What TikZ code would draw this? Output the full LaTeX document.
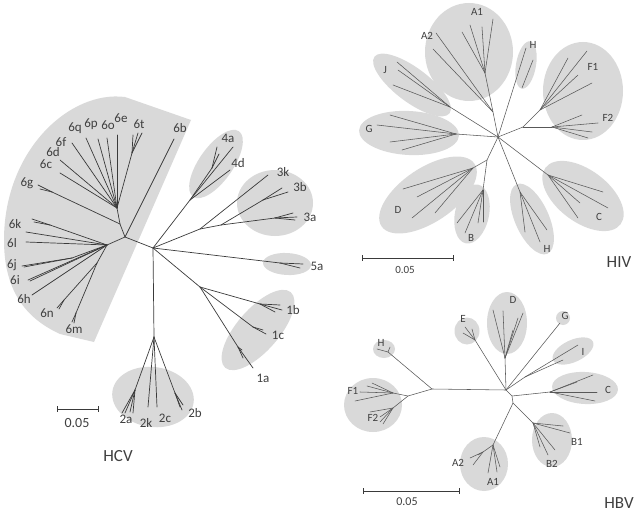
\documentclass[tikz,border=0pt]{standalone}
\usepackage{fontspec}
\setmainfont{Carlito}
\definecolor{blobc}{HTML}{D9D9D9}
\definecolor{linec}{HTML}{3A3A3A}
\definecolor{textc}{HTML}{3F3F3F}
\newcommand\blobe[5]{\fill[blobc, shift={(#1,#2)}, rotate=#3] (0,0) ellipse [x radius=#4, y radius=#5];}
\begin{document}
\begin{tikzpicture}[x=1pt,y=-1pt,
  br/.style={draw=linec, line width=0.7pt, line cap=round},
  bt/.style={draw=linec!85, line width=0.55pt, line cap=round},
  labc/.style={text=textc, inner sep=0pt, font=\fontsize{13}{13}\selectfont},
  labv/.style={text=textc, inner sep=0pt, font=\fontsize{11}{11}\selectfont},
  ttl/.style={text=textc, inner sep=0pt, font=\fontsize{17}{17}\selectfont},
  sbar/.style={draw=linec, line width=0.8pt},
]
\useasboundingbox (0,0) rectangle (637,516);

% ================= HCV =================
\fill[blobc] (191,120) -- (125,97) .. controls (70,90) and (4,150) .. (4,240)
  .. controls (4,290) and (25,318) .. (60,334) -- (94,342) -- cycle;
\blobe{216}{164}{55}{40}{17}
\blobe{275}{203}{0}{38}{33}
\blobe{287}{264}{-3}{24}{11}
\blobe{258}{330}{49}{50}{21}
\blobe{153}{397}{-8}{41}{30}

\coordinate (hc) at (153,248);
\coordinate (n6) at (125,237);
\coordinate (n6u) at (120,224);
\coordinate (n6g) at (52,192);
\coordinate (n6f) at (117,208);
\coordinate (n6t) at (132,153);
\coordinate (n6l) at (107,245);
\coordinate (n6k) at (50,225);
\coordinate (n6j) at (72,258);
\coordinate (n6m) at (97,263);
\coordinate (n6n) at (64,300);
\coordinate (n6mm) at (76,313);
\draw[br] (hc) -- (n6);
\draw[br] (n6) -- (174,139);
\draw[br] (n6) -- (n6u) -- (n6f);
\draw[br] (n6u) -- (n6g);
\foreach \p in {(38,185),(40,189)} \draw[br] (n6g) -- \p;
\foreach \p in {(60,173),(60,160),(72,143),(86,138),(98,139),(107,138),(117,135)} \draw[br] (n6f) -- \p;
\draw[br] (n6f) -- (n6t);
\foreach \p in {(133,135),(138,133),(142,133)} \draw[br] (n6t) -- \p;
\draw[br] (n6) -- (n6l);
\draw[br] (n6l) -- (26,242);
\draw[br] (n6l) -- (26,232);
\draw[br] (n6l) -- (n6k);
\foreach \p in {(32,219),(34,222)} \draw[br] (n6k) -- \p;
\draw[br] (n6l) -- (n6j);
\foreach \p in {(22,266),(24,267)} \draw[br] (n6j) -- \p;
\draw[br] (n6l) -- (28,280);
\draw[br] (n6l) -- (30,281);
\draw[br] (n6l) -- (32,295);
\draw[br] (n6l) -- (n6m);
\draw[br] (n6m) -- (n6n);
\foreach \p in {(57,308),(59,309)} \draw[br] (n6n) -- \p;
\draw[br] (n6m) -- (n6mm);
\foreach \p in {(72,322),(74,323)} \draw[br] (n6mm) -- \p;

\coordinate (n4) at (190,200);
\coordinate (n4a) at (212,168);
\draw[br] (hc) -- (n4);
\draw[br] (n4) -- (233,147);
\draw[br] (n4) -- (n4a);
\foreach \p in {(217,147),(219,154)} \draw[br] (n4a) -- \p;
\draw[br] (n4) -- (230,170);

\coordinate (n3) at (200,229);
\coordinate (n3b) at (221,225);
\coordinate (n3bb) at (263,200);
\coordinate (n3a) at (275,218);
\draw[br] (hc) -- (n3) -- (268,175);
\draw[br] (n3) -- (n3b) -- (n3bb);
\foreach \p in {(282,188),(288,192)} \draw[br] (n3bb) -- \p;
\draw[br] (n3b) -- (n3a);
\foreach \p in {(293,213),(297,217),(295,220)} \draw[br] (n3a) -- \p;

\coordinate (n5) at (280,263);
\draw[br] (hc) -- (n5);
\foreach \p in {(303,264),(300,268)} \draw[br] (n5) -- \p;

\coordinate (n1) at (200,287);
\coordinate (n1b) at (260,304);
\coordinate (n1c) at (253,327);
\coordinate (n1a) at (238,347);
\draw[br] (hc) -- (n1);
\draw[br] (n1) -- (n1b);
\foreach \p in {(280,305),(282,310),(275,312)} \draw[br] (n1b) -- \p;
\draw[br] (n1) -- (n1c);
\foreach \p in {(266,334),(263,330)} \draw[br] (n1c) -- \p;
\draw[br] (n1) -- (n1a);
\foreach \p in {(253,368),(243,358),(242,350)} \draw[br] (n1a) -- \p;

\coordinate (n2) at (154,337);
\coordinate (n2a) at (135,390);
\coordinate (n2b) at (175,393);
\draw[br] (hc) -- (n2);
\draw[br] (n2) -- (n2a);
\foreach \p in {(122,413),(125,413),(130,412),(133,413)} \draw[br] (n2a) -- \p;
\draw[br] (n2) -- (148,407);
\draw[br] (n2) -- (157,407);
\draw[br] (n2) -- (n2b);
\foreach \p in {(180,407),(183,405),(182,410)} \draw[br] (n2b) -- \p;

\node[labc] (l6q) at (75,128) {6q};
\node[labc] (l6p) at (91,124) {6p};
\node[labc] (l6o) at (108,125) {6o};
\node[labc] (l6e) at (121,118) {6e};
\node[labc] (l6t) at (139,124) {6t};
\node[labc] (l6b) at (180,128) {6b};
\node[labc] (l6f) at (61,142) {6f};
\node[labc] (l6d) at (53,152) {6d};
\node[labc] (l6c) at (46,164) {6c};
\node[labc] (l6g) at (27,183) {6g};
\node[labc] (l6k) at (15,224) {6k};
\node[labc] (l6l) at (12,243) {6l};
\node[labc] (l6j) at (12,265) {6j};
\node[labc] (l6i) at (15,280) {6i};
\node[labc] (l6h) at (24,299) {6h};
\node[labc] (l6n) at (47,313) {6n};
\node[labc] (l6m) at (74,329) {6m};
\node[labc] (l4a) at (228,138) {4a};
\node[labc] (l4d) at (238,163) {4d};
\node[labc] (l3k) at (283,172) {3k};
\node[labc] (l3b) at (300,187) {3b};
\node[labc] (l3a) at (310,217) {3a};
\node[labc] (l5a) at (317,266) {5a};
\node[labc] (l1b) at (293,310) {1b};
\node[labc] (l1c) at (278,335) {1c};
\node[labc] (l1a) at (263,378) {1a};
\node[labc] (l2a) at (126,419) {2a};
\node[labc] (l2k) at (146,423) {2k};
\node[labc] (l2c) at (165,418) {2c};
\node[labc] (l2b) at (195,413) {2b};

\coordinate (sc1) at (57,409); \coordinate (sc2) at (98,409);
\draw[sbar] (sc1) -- (sc2);
\draw[sbar] ([yshift=3pt]sc1) -- ([yshift=-3pt]sc1);
\draw[sbar] ([yshift=3pt]sc2) -- ([yshift=-3pt]sc2);
\node[labc, font=\fontsize{14}{14}\selectfont] (scl1) at (77,423) {0.05};
\node[ttl] (thcv) at (118,456) {HCV};

% ================= HIV =================
\blobe{469}{52}{0}{44}{49}
\blobe{412}{85}{-37}{47}{17}
\blobe{409}{133}{-3}{50}{22}
\blobe{428}{195}{34}{56}{27}
\blobe{472}{214}{78}{30}{17}
\blobe{532}{219}{114}{38}{17}
\blobe{583}{196}{-37}{47}{26}
\blobe{583}{91}{0}{40}{49}
\blobe{526}{65}{80}{24}{10}

\coordinate (hv) at (498,137);
\coordinate (vA) at (485,73);
\coordinate (vA2) at (493,112);
\coordinate (vJ) at (450,107);
\coordinate (vG) at (456,134);
\coordinate (vDB) at (487,160);
\coordinate (vD) at (473,168);
\coordinate (vB) at (483,190);
\coordinate (vH) at (520,192);
\coordinate (vC) at (548,175);
\coordinate (vF) at (523,127);
\coordinate (vF1) at (540,110);
\coordinate (vF2) at (552,127);
\coordinate (vHt) at (522,88);
\draw[bt] (hv) -- (vA2) -- (vA);
\foreach \p in {(462,32),(470,25),(482,27),(493,19)} \draw[bt] (vA) -- \p;
\foreach \p in {(436,33),(433,49)} \draw[bt] (vA2) -- \p;
\draw[bt] (hv) -- (vJ);
\foreach \p in {(397,62),(398,70),(393,85)} \draw[bt] (vJ) -- \p;
\draw[bt] (hv) -- (vG);
\foreach \p in {(390,115),(377,125),(390,142),(402,150)} \draw[bt] (vG) -- \p;
\draw[bt] (hv) -- (vDB) -- (vD);
\foreach \p in {(403,189),(417,197),(412,218),(435,213)} \draw[bt] (vD) -- \p;
\draw[bt] (vDB) -- (vB);
\foreach \p in {(457,223),(465,233),(478,223),(483,222)} \draw[bt] (vB) -- \p;
\draw[bt] (hv) -- (vH);
\foreach \p in {(525,232),(540,242),(547,230)} \draw[bt] (vH) -- \p;
\draw[bt] (hv) -- (vC);
\foreach \p in {(603,192),(608,208),(580,203),(578,218)} \draw[bt] (vC) -- \p;
\draw[bt] (hv) -- (vF);
\draw[bt] (vF) -- (vF1);
\foreach \p in {(568,58),(587,51),(578,75),(592,83)} \draw[bt] (vF1) -- \p;
\draw[bt] (vF) -- (vF2);
\foreach \p in {(582,115),(598,123),(592,132),(588,138)} \draw[bt] (vF2) -- \p;
\draw[bt] (hv) -- (526,48);
\draw[bt] (vHt) -- (533,60);

\node[labv] (hA1) at (477,12) {A1};
\node[labv] (hA2) at (427,36) {A2};
\node[labv] (hJ) at (385,70) {J};
\node[labv] (hG) at (369,129) {G};
\node[labv] (hD) at (398,210) {D};
\node[labv] (hB) at (471,238) {B};
\node[labv] (hH) at (547,249) {H};
\node[labv] (hC) at (599,217) {C};
\node[labv] (hF1) at (593,67) {F1};
\node[labv] (hF2) at (608,118) {F2};
\node[labv] (hHt) at (533,45) {H};

\coordinate (sv1) at (362,258); \coordinate (sv2) at (453,258);
\draw[sbar] (sv1) -- (sv2);
\draw[sbar] ([yshift=3pt]sv1) -- ([yshift=-3pt]sv1);
\draw[sbar] ([yshift=3pt]sv2) -- ([yshift=-3pt]sv2);
\node[labv] (svl) at (405,270) {0.05};
\node[ttl] (thiv) at (619,262) {HIV};

% ================= HBV =================
\blobe{384}{349}{0}{11}{9}
\blobe{373}{405}{0}{29}{27}
\blobe{467}{331}{0}{12.5}{13.5}
\blobe{507}{323}{0}{20}{31}
\blobe{563}{318}{0}{7}{7}
\blobe{573}{351}{25}{22}{11}
\blobe{585}{388}{-3}{33}{16}
\blobe{552}{440}{0}{20}{27}
\blobe{484}{464}{0}{24}{27}

\coordinate (hb) at (506,390);
\coordinate (hb2) at (512,396);
\coordinate (hb3) at (513,403);
\coordinate (bL) at (432,389);
\coordinate (bH) at (388,352);
\coordinate (bF) at (408,396);
\coordinate (bF1) at (393,393);
\coordinate (bF2) at (393,408);
\coordinate (bE) at (475,340);
\coordinate (bD) at (505,358);
\coordinate (bI) at (525,377);
\coordinate (bC) at (550,392);
\coordinate (bB) at (533,423);
\coordinate (bA) at (493,445);
\coordinate (bA2) at (483,452);
\draw[bt] (bL) -- (hb) -- (hb2) -- (hb3);
\draw[bt] (bL) -- (bH);
\foreach \p in {(377,349),(390,347)} \draw[bt] (bH) -- \p;
\draw[bt] (bL) -- (bF) -- (bF1);
\foreach \p in {(360,392),(355,401),(367,386),(372,383)} \draw[bt] (bF1) -- \p;
\draw[bt] (bF) -- (bF2);
\foreach \p in {(380,422),(383,424),(380,417),(370,412)} \draw[bt] (bF2) -- \p;
\draw[bt] (hb) -- (bE);
\foreach \p in {(463,333),(465,327),(472,329)} \draw[bt] (bE) -- \p;
\draw[bt] (hb) -- (bD);
\foreach \p in {(493,310),(503,311),(523,313),(513,330),(518,318)} \draw[bt] (bD) -- \p;
\draw[bt] (hb) -- (560,323);
\draw[bt] (hb) -- (bI);
\foreach \p in {(578,345),(563,360)} \draw[bt] (bI) -- \p;
\draw[bt] (hb2) -- (bC);
\foreach \p in {(593,375),(597,392),(595,401),(577,382)} \draw[bt] (bC) -- \p;
\draw[bt] (hb3) -- (bB);
\foreach \p in {(563,426),(570,433),(540,447),(548,455),(555,450)} \draw[bt] (bB) -- \p;
\draw[bt] (hb3) -- (bA) -- (bA2);
\foreach \p in {(470,458),(473,465),(478,455)} \draw[bt] (bA2) -- \p;
\foreach \p in {(488,473),(497,472),(500,467)} \draw[bt] (bA) -- \p;

\node[labv] (bHl) at (381,343) {H};
\node[labv] (bF1l) at (353,391) {F1};
\node[labv] (bF2l) at (373,418) {F2};
\node[labv] (bEl) at (463,319) {E};
\node[labv] (bDl) at (513,300) {D};
\node[labv] (bGl) at (565,316) {G};
\node[labv] (bIl) at (583,352) {I};
\node[labv] (bCl) at (608,390) {C};
\node[labv] (bB1l) at (577,442) {B1};
\node[labv] (bB2l) at (552,464) {B2};
\node[labv] (bA2l) at (458,463) {A2};
\node[labv] (bA1l) at (493,482) {A1};

\coordinate (sb1) at (363,491); \coordinate (sb2) at (459,491);
\draw[sbar] (sb1) -- (sb2);
\draw[sbar] ([yshift=3pt]sb1) -- ([yshift=-3pt]sb1);
\draw[sbar] ([yshift=3pt]sb2) -- ([yshift=-3pt]sb2);
\node[labv, font=\fontsize{12}{12}\selectfont] (sbl) at (407,502) {0.05};
\node[ttl] (thbv) at (619,503) {HBV};
\end{tikzpicture}
\end{document}
